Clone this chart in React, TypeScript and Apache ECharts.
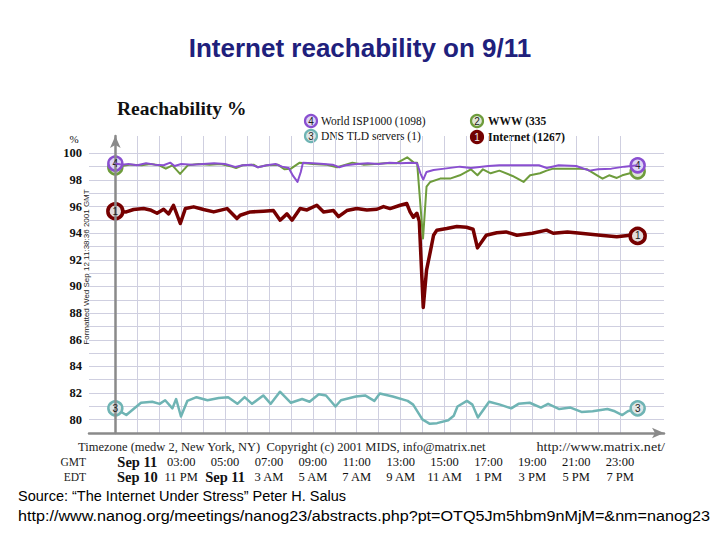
import React, { useEffect, useRef } from "react";
import * as echarts from "echarts";

// ---- data (hours GMT on Sep 11, reachability %) ----
const internetHours = [0, 0.5, 0.83, 1.29, 1.59, 1.9, 2.2, 2.43, 2.65, 2.96, 3.19, 3.57, 4.02, 4.48, 5.09, 5.54, 5.69, 6.15, 6.75, 7.2, 7.51, 7.82, 8.05, 8.42, 8.73, 9.18, 9.49, 9.94, 10.17, 10.55, 11.0, 11.46, 11.92, 12.22, 12.52, 12.98, 13.28, 13.43, 13.58, 13.74, 13.85, 14.03, 14.18, 14.35, 14.5, 14.65, 15.1, 15.56, 16.0, 16.3, 16.5, 16.9, 17.38, 17.8, 18.3, 19.0, 19.65, 19.95, 20.6, 21.2, 22.1, 22.85, 23.45, 23.8];
const internetValues = [95.65, 95.6, 95.78, 95.85, 95.75, 95.5, 95.8, 95.45, 96.1, 94.73, 95.85, 95.98, 95.78, 95.6, 95.85, 95.1, 95.35, 95.6, 95.65, 95.7, 94.98, 95.45, 94.98, 95.85, 95.75, 96.1, 95.6, 95.7, 95.25, 95.7, 95.85, 95.75, 95.8, 96.0, 95.85, 96.1, 96.23, 95.6, 95.2, 95.5, 94.9, 88.43, 91.23, 92.6, 93.85, 94.23, 94.35, 94.5, 94.45, 94.3, 92.9, 93.85, 94.03, 94.1, 93.85, 94.0, 94.23, 94.0, 94.1, 94.0, 93.85, 93.73, 93.85, 93.8];

const ispHours = [0, 0.3, 0.6, 1.0, 1.4, 1.8, 2.2, 2.5, 2.7, 3.0, 3.5, 4.0, 4.5, 5.0, 5.46, 5.8, 6.2, 6.5, 6.9, 7.3, 7.6, 7.9, 8.1, 8.3, 8.45, 8.55, 9.0, 9.5, 9.9, 10.2, 10.5, 11.0, 11.5, 12.0, 12.5, 13.0, 13.5, 13.75, 13.9, 14.03, 14.18, 14.5, 15.0, 15.7, 16.2, 17.0, 17.5, 18.5, 19.3, 19.66, 20.2, 21.0, 21.6, 22.0, 22.6, 23.2, 23.8];
const ispValues = [99.23, 99.15, 99.2, 99.1, 99.25, 99.15, 99.1, 99.3, 99.05, 99.2, 99.15, 99.2, 99.25, 99.2, 98.98, 99.1, 99.15, 98.95, 99.1, 99.2, 99.0, 98.9, 98.3, 97.85, 98.6, 99.3, 99.25, 99.2, 99.15, 98.95, 99.1, 99.2, 99.25, 99.2, 99.3, 99.25, 99.3, 99.25, 98.5, 98.03, 98.6, 98.75, 98.85, 99.0, 98.9, 99.05, 99.1, 99.1, 99.1, 98.9, 99.1, 99.05, 98.7, 98.8, 98.85, 99.0, 99.1];

const wwwHours = [0, 0.3, 0.7, 1.2, 1.6, 2.0, 2.3, 2.6, 2.95, 3.3, 3.8, 4.3, 4.8, 5.3, 5.5, 5.8, 6.3, 6.5, 6.9, 7.4, 7.7, 8.0, 8.4, 9.0, 9.6, 10.1, 10.5, 10.8, 11.3, 11.8, 12.3, 12.8, 13.3, 13.6, 13.75, 14.02, 14.18, 14.35, 14.8, 15.25, 15.7, 16.2, 16.5, 16.75, 17.1, 17.5, 18.1, 18.6, 18.9, 19.35, 19.65, 19.95, 21.2, 21.5, 21.95, 22.2, 22.5, 22.85, 23.1, 23.45, 23.8];
const wwwValues = [98.95, 99.05, 99.15, 99.1, 99.2, 99.1, 98.85, 99.1, 98.45, 99.1, 99.2, 99.15, 99.2, 99.0, 98.9, 99.1, 99.15, 98.95, 99.1, 99.15, 98.8, 98.85, 99.3, 99.2, 99.15, 98.95, 99.15, 99.3, 99.15, 99.2, 99.25, 99.25, 99.7, 99.3, 99.3, 93.6, 97.5, 97.85, 98.1, 98.1, 98.35, 98.8, 98.35, 98.8, 98.5, 98.7, 98.3, 97.85, 98.35, 98.5, 98.7, 98.85, 98.85, 98.8, 98.35, 98.1, 98.35, 98.15, 98.35, 98.5, 98.65];

const dnsHours = [0, 0.5, 1.17, 1.68, 2.02, 2.27, 2.6, 2.77, 2.99, 3.28, 3.7, 4.2, 4.71, 5.14, 5.56, 5.89, 6.23, 6.74, 7.08, 7.5, 8.0, 8.51, 8.85, 9.27, 9.6, 10.03, 10.28, 10.96, 11.38, 11.8, 12.05, 12.64, 13.32, 13.57, 13.99, 14.33, 14.66, 15.17, 15.42, 15.59, 16.02, 16.27, 16.52, 17.03, 17.53, 18.04, 18.37, 18.88, 19.39, 19.72, 20.23, 20.74, 21.24, 21.75, 22.42, 22.76, 23.1, 23.35, 23.8];
const dnsValues = [80.85, 80.35, 81.27, 81.35, 81.19, 81.46, 80.85, 81.55, 80.24, 81.41, 81.69, 81.46, 81.63, 81.69, 81.19, 81.69, 81.19, 81.82, 81.19, 82.1, 81.27, 81.55, 81.35, 81.91, 81.82, 80.99, 81.46, 81.74, 81.82, 81.41, 81.96, 81.74, 81.41, 81.13, 80.02, 79.69, 79.74, 79.96, 80.3, 80.99, 81.41, 81.13, 80.16, 81.35, 81.13, 80.85, 81.19, 81.27, 80.91, 81.19, 80.8, 80.91, 80.58, 80.63, 80.8, 80.63, 80.35, 80.63, 80.85];

// tick labels and grid-line positions
const labelHours = [1, 3, 5, 7, 9, 11, 13, 15, 17, 19, 21, 23];
const gmtLabels = ["Sep 11", "03:00", "05:00", "07:00", "09:00", "11:00", "13:00", "15:00", "17:00", "19:00", "21:00", "23:00"];
const edtLabels = ["Sep 10", "11 PM", "Sep 11", "3 AM", "5 AM", "7 AM", "9 AM", "11 AM", "1 PM", "3 PM", "5 PM", "7 PM"];
const yLabelValues = [80, 82, 84, 86, 88, 90, 92, 94, 96, 98, 100];
const gridHours = [1, 2, 3, 4, 5, 6, 7, 8, 9, 10, 11, 12, 13, 14, 15, 16, 17, 18, 19, 20, 21, 22, 23];
const gridValues = [80, 81, 82, 83, 84, 85, 86, 87, 88, 89, 90, 91, 92, 93, 94, 95, 96, 97, 98, 99, 100];

const X_MIN = -1.2;
const X_MAX = 25;
const Y_MIN = 79;
const Y_MAX = 101.3;

const SERIF = '"Liberation Serif", "DejaVu Serif", serif';
const SANS = '"Liberation Sans", Arial, sans-serif';

const C_ISP = "#8a4fd0";
const C_WWW = "#6e9c3c";
const C_NET = "#760000";
const C_DNS = "#6fb4b4";

function endMarks(hours: number[], values: number[], num: string, ring: string, fill: string, bw: number, size: number, showNum = true) {
  return {
    symbol: "circle",
    symbolSize: size,
    silent: true,
    itemStyle: { color: fill, borderColor: ring, borderWidth: bw },
    label: { show: showNum, position: "inside", formatter: num, color: "#222", fontSize: 10, fontFamily: SANS },
    emphasis: { disabled: true },
    data: [
      { coord: [hours[0], values[0]] },
      { coord: [hours[hours.length - 1], values[values.length - 1]] },
    ],
  };
}

function txt(text: string, x: number, y: number, font: string, align = "left", fill = "#1a1a1a", rotation = 0, scaleX = 1) {
  return {
    type: "text",
    x,
    y,
    rotation,
    scaleX,
    silent: true,
    style: { text, font, fill, align, textAlign: align, verticalAlign: "middle", textVerticalAlign: "middle" },
  };
}

function legendMark(num: string, x: number, y: number, ring: string, fill: string, digit: string) {
  return [
    { type: "circle", shape: { cx: x, cy: y, r: 6 }, style: { fill, stroke: ring, lineWidth: 2.2 }, silent: true },
    txt(num, x, y + 0.5, `10px ${SANS}`, "center", digit),
  ];
}

export default function App() {
  const ref = useRef<HTMLDivElement>(null);
  useEffect(() => {
    const chart = echarts.init(ref.current!, undefined, { renderer: "svg" });
    const gridColor = "#cfcfe0";
    const axisColor = "#8a8a8a";

    const hidden = { show: false };
    const gridLineStyle = { color: gridColor, width: 1, type: "solid", opacity: 1 };
    const option: any = {
      animation: false,
      backgroundColor: "#ffffff",
      title: {
        text: "Internet reachability on 9/11",
        left: "center",
        top: 30,
        textStyle: { fontSize: 26, fontWeight: "bold", color: "#20207c", fontFamily: SANS },
      },
      grid: { left: 89, right: 56, top: 136, bottom: 107 },
      xAxis: {
        type: "value",
        min: X_MIN,
        max: X_MAX,
        z: 5,
        axisLine: { show: true, lineStyle: { color: axisColor, width: 2.5 }, symbol: ["none", "arrow"], symbolSize: [8, 12] },
        axisTick: hidden,
        splitLine: hidden,
        axisLabel: {
          customValues: labelHours,
          hideOverlap: false,
          margin: 21,
          formatter: (v: number) => {
            const i = labelHours.indexOf(v);
            if (i < 0) return "";
            const g = gmtLabels[i];
            const e = edtLabels[i];
            const gs = g.startsWith("Sep") ? "b" : "n";
            const es = e.startsWith("Sep") ? "b" : "n";
            return `{${gs}|${g}}\n{${es}|${e}}`;
          },
          rich: {
            n: { fontSize: 12.5, fontFamily: SERIF, color: "#111", lineHeight: 15 },
            b: { fontSize: 14.5, fontFamily: SERIF, fontWeight: "bold", color: "#111", lineHeight: 15 },
          },
        },
      },
      yAxis: {
        type: "value",
        min: Y_MIN,
        max: Y_MAX,
        z: 5,
        axisLine: { show: true, lineStyle: { color: axisColor, width: 2.5 }, symbol: ["none", "arrow"], symbolSize: [8, 12] },
        axisTick: hidden,
        splitLine: hidden,
        axisLabel: {
          customValues: yLabelValues,
          hideOverlap: false,
          margin: 7,
          formatter: (v: number) => String(v),
          fontSize: 12.5,
          fontWeight: "bold",
          fontFamily: SERIF,
          color: "#111",
        },
      },
      series: [
        {
          type: "line",
          name: "Internet (1267)",
          z: 3,
          data: internetHours.map((h, i) => [h, internetValues[i]]),
          symbol: "none",
          showSymbol: false,
          lineStyle: { color: C_NET, width: 3.5, join: "round", cap: "round" },
          itemStyle: { color: C_NET },
          markPoint: endMarks(internetHours, internetValues, "1", C_NET, "#e2dcdc", 3.5, 15),
          markLine: {
            silent: true,
            symbol: "none",
            precision: 4,
            label: { show: false },
            lineStyle: gridLineStyle,
            emphasis: { disabled: true, lineStyle: gridLineStyle, label: { show: false } },
            data: [
              ...gridHours.map((h) => ({ xAxis: h, lineStyle: gridLineStyle })),
              ...gridValues.map((v) => ({ yAxis: v, lineStyle: gridLineStyle })),
            ],
            z: 1,
          },
        },
        {
          type: "line",
          name: "DNS TLD servers (1)",
          z: 3,
          data: dnsHours.map((h, i) => [h, dnsValues[i]]),
          symbol: "none",
          showSymbol: false,
          lineStyle: { color: C_DNS, width: 2.5, join: "round" },
          itemStyle: { color: C_DNS },
          markPoint: endMarks(dnsHours, dnsValues, "3", C_DNS, "#dfe6e6", 2.5, 14),
        },
        {
          type: "line",
          name: "WWW (335)",
          z: 4,
          data: wwwHours.map((h, i) => [h, wwwValues[i]]),
          symbol: "none",
          showSymbol: false,
          lineStyle: { color: C_WWW, width: 2, join: "round" },
          itemStyle: { color: C_WWW },
          markPoint: endMarks(wwwHours, wwwValues, "2", C_WWW, "#dfe6d6", 2.5, 14, false),
        },
        {
          type: "line",
          name: "World ISP1000 (1098)",
          z: 5,
          data: ispHours.map((h, i) => [h, ispValues[i]]),
          symbol: "none",
          showSymbol: false,
          lineStyle: { color: C_ISP, width: 2, join: "round" },
          itemStyle: { color: C_ISP },
          markPoint: endMarks(ispHours, ispValues, "4", C_ISP, "#ddd5f5", 2.5, 14),
        },
      ],
      graphic: [
        txt("Reachability %", 117, 108, `bold 19.5px ${SERIF}`, "left", "#111"),
        txt("%", 74, 139, `11px ${SERIF}`, "center", "#111"),
        txt("Formatted Wed Sep 12 11:38:36 2001 GMT", 86, 267, `8px ${SANS}`, "center", "#222", Math.PI / 2),
        ...legendMark("4", 311, 121, C_ISP, "#ddd5f5", "#222"),
        txt("World ISP1000 (1098)", 321, 121, `11.5px ${SERIF}`, "left", "#111"),
        ...legendMark("3", 311, 136, C_DNS, "#dfe6e6", "#222"),
        txt("DNS TLD servers (1)", 321, 136, `11.5px ${SERIF}`, "left", "#111"),
        ...legendMark("2", 477, 121, C_WWW, "#dfe6d6", "#222"),
        txt("WWW (335", 488, 121, `bold 11.5px ${SERIF}`, "left", "#111"),
        ...legendMark("1", 477, 137, C_NET, "#6e0000", "#eeeeee"),
        txt("Internet (1267)", 488, 137, `bold 12px ${SERIF}`, "left", "#111"),
        txt("Timezone (medw 2, New York, NY)  Copyright (c) 2001 MIDS, info@matrix.net", 78, 447, `12.5px ${SERIF}`, "left", "#222"),
        txt("http://www.matrix.net/", 665, 447, `12.5px ${SERIF}`, "right", "#222", 0, 1.13),
        txt("GMT", 86, 462, `11.5px ${SERIF}`, "right", "#222"),
        txt("EDT", 86, 477, `11.5px ${SERIF}`, "right", "#222"),
        txt("Source: \u201cThe Internet Under Stress\u201d Peter H. Salus", 18, 496, `14.5px ${SANS}`, "left", "#000"),
        txt("http://www.nanog.org/meetings/nanog23/abstracts.php?pt=OTQ5Jm5hbm9nMjM=&nm=nanog23", 18, 516, `14.5px ${SANS}`, "left", "#000", 0, 1.115),
      ],
    };
    chart.setOption(option);
    return () => chart.dispose();
  }, []);
  return <div ref={ref} style={{ position: "absolute", left: 0, top: 0, width: 720, height: 540 }} />;
}
